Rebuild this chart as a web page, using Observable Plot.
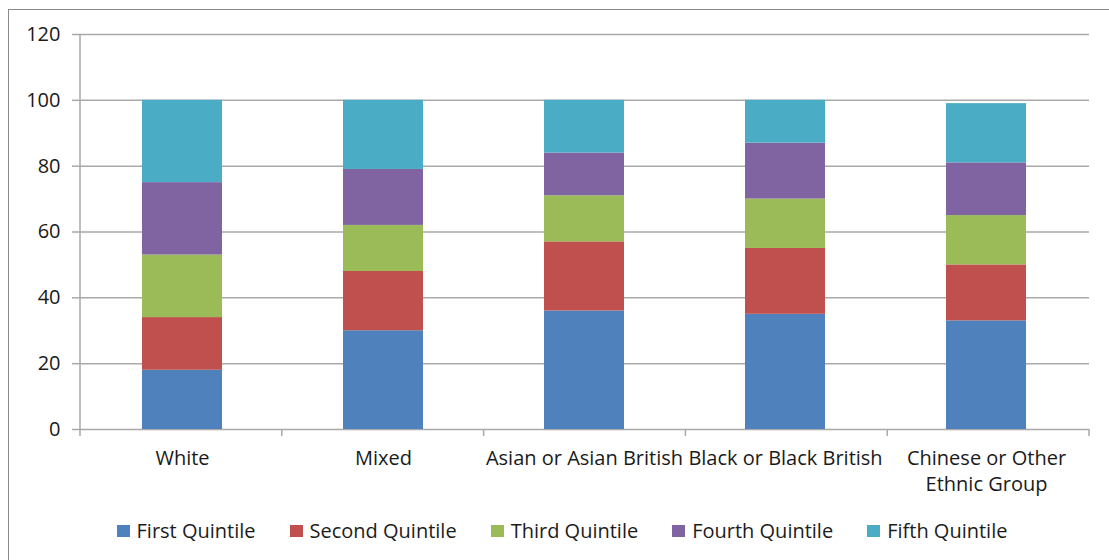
<!DOCTYPE html>
<html>
<head>
<meta charset="utf-8">
<script src="https://cdn.jsdelivr.net/npm/d3@7"></script>
<script src="https://cdn.jsdelivr.net/npm/@observablehq/plot@0.6"></script>
<style>
  html, body { margin: 0; padding: 0; background: #fff; }
  body { width: 1109px; height: 560px; overflow: hidden; position: relative; font-family: "Open Sans", sans-serif; color: #1c1c1c; }
  #border { position: absolute; left: 8px; top: 9px; width: 1200px; height: 700px; border: 1px solid #8a8a8a; box-sizing: border-box; }
  #chart { position: absolute; left: 0; top: 0; }
  #legend { position: absolute; left: 0; top: 518px; width: 1124px; display: flex; justify-content: center; gap: 34px; font-size: 20px; line-height: 26px; }
  #legend .item { display: flex; align-items: center; gap: 7px; }
  #legend .sw { width: 13px; height: 12px; display: inline-block; }
</style>
</head>
<body>
<div id="border"></div>
<div id="chart"></div>
<div id="legend"></div>
<script>
// Ethnic groups along the x axis
const groups = ["White", "Mixed", "Asian or Asian British", "Black or Black British", "Chinese or Other Ethnic Group"];
const groupLabels = ["White", "Mixed", "Asian or Asian British", "Black or Black British", "Chinese or Other\nEthnic Group"];

// Share (%) of each group falling in each quintile
const quintiles = ["First Quintile", "Second Quintile", "Third Quintile", "Fourth Quintile", "Fifth Quintile"];
const firstQuintile  = [18, 30, 36, 35, 33];
const secondQuintile = [16, 18, 21, 20, 17];
const thirdQuintile  = [19, 14, 14, 15, 15];
const fourthQuintile = [22, 17, 13, 17, 16];
const fifthQuintile  = [25, 21, 16, 13, 18];
const colors = ["#4F81BD", "#C0504D", "#9BBB59", "#8064A2", "#4BACC6"];

const yTicks = [0, 20, 40, 60, 80, 100, 120];

const series = [firstQuintile, secondQuintile, thirdQuintile, fourthQuintile, fifthQuintile];
const rows = [];
groups.forEach((g, i) => {
  quintiles.forEach((q, j) => rows.push({group: g, quintile: q, value: series[j][i]}));
});

const gridColor = "#a9a9a9";
const textColor = "#1a1a1a";

// Category boundary ticks and the vertical value axis line
function categoryTicks(index, scales, values, dims) {
  const g = d3.create("svg:g").attr("stroke", gridColor).attr("stroke-width", 1.5);
  const x0 = dims.marginLeft, x1 = dims.width - dims.marginRight;
  const yb = dims.height - dims.marginBottom;
  const n = groups.length;
  for (let i = 0; i <= n; i++) {
    const xx = x0 + (x1 - x0) * i / n;
    g.append("line").attr("x1", xx).attr("x2", xx).attr("y1", yb).attr("y2", yb + 7);
  }
  g.append("line").attr("x1", x0).attr("x2", x0).attr("y1", dims.marginTop).attr("y2", yb);
  return g.node();
}

const chart = Plot.plot({
  width: 1109,
  height: 500,
  marginLeft: 80,
  marginRight: 20,
  marginTop: 34,
  marginBottom: 71,
  style: {fontFamily: "'Open Sans', sans-serif", fontSize: "20px", color: textColor, background: "transparent"},
  x: {domain: groups, paddingInner: 0.6, paddingOuter: 0.3, label: null},
  y: {domain: [0, 120], label: null},
  color: {domain: quintiles, range: colors},
  marks: [
    Plot.gridY(yTicks, {stroke: gridColor, strokeOpacity: 1, strokeWidth: 1.5}),
    Plot.axisY(yTicks, {tickSize: 8, tickPadding: 12, stroke: gridColor, strokeWidth: 1.5, fontSize: 20, fill: textColor}),
    Plot.barY(rows, {x: "group", y: "value", fill: "quintile"}),
    Plot.axisX({tickSize: 0, tickPadding: 17, fontSize: 20, fill: textColor, lineHeight: 1.3,
      tickFormat: d => groupLabels[groups.indexOf(d)]}),
    categoryTicks
  ]
});
document.getElementById("chart").appendChild(chart);

// Legend row
const legend = d3.select("#legend");
quintiles.forEach((q, i) => {
  const item = legend.append("div").attr("class", "item");
  item.append("span").attr("class", "sw").style("background", colors[i]);
  item.append("span").text(q);
});
</script>
</body>
</html>
